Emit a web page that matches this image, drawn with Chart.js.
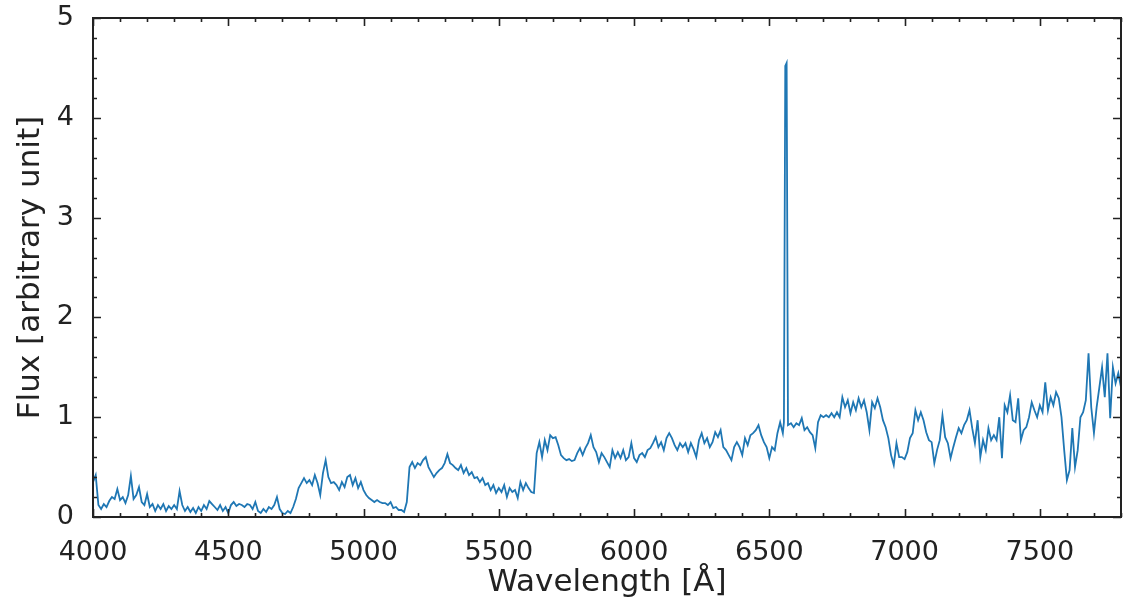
<!DOCTYPE html>
<html>
<head>
<meta charset="utf-8">
<script src="https://cdn.jsdelivr.net/npm/chart.js@4/dist/chart.umd.min.js"></script>
<style>
  html, body { margin: 0; padding: 0; background: #fff; }
  #wrap { width: 1129px; height: 606px; }
</style>
</head>
<body>
<div id="wrap"><canvas id="spectrumChart"></canvas></div>
<script>
// wavelength grid (Å) and flux
const wavelength = [
  4000, 4010, 4020, 4030, 4040, 4050, 4060, 4070, 4080, 4090,
  4100, 4110, 4120, 4130, 4140, 4150, 4160, 4170, 4180, 4190,
  4200, 4210, 4220, 4230, 4240, 4250, 4260, 4270, 4280, 4290,
  4300, 4310, 4320, 4330, 4340, 4350, 4360, 4370, 4380, 4390,
  4400, 4410, 4420, 4430, 4440, 4450, 4460, 4470, 4480, 4490,
  4500, 4510, 4520, 4530, 4540, 4550, 4560, 4570, 4580, 4590,
  4600, 4610, 4620, 4630, 4640, 4650, 4660, 4670, 4680, 4690,
  4700, 4710, 4720, 4730, 4740, 4750, 4760, 4770, 4780, 4790,
  4800, 4810, 4820, 4830, 4840, 4850, 4860, 4870, 4880, 4890,
  4900, 4910, 4920, 4930, 4940, 4950, 4960, 4970, 4980, 4990,
  5000, 5010, 5020, 5030, 5040, 5050, 5060, 5070, 5080, 5090,
  5100, 5110, 5120, 5130, 5140, 5150, 5160, 5170, 5180, 5190,
  5200, 5210, 5220, 5230, 5240, 5250, 5260, 5270, 5280, 5290,
  5300, 5310, 5320, 5330, 5340, 5350, 5360, 5370, 5380, 5390,
  5400, 5410, 5420, 5430, 5440, 5450, 5460, 5470, 5480, 5490,
  5500, 5510, 5520, 5530, 5540, 5550, 5560, 5570, 5580, 5590,
  5600, 5610, 5620, 5630, 5640, 5650, 5660, 5670, 5680, 5690,
  5700, 5710, 5720, 5730, 5740, 5750, 5760, 5770, 5780, 5790,
  5800, 5810, 5820, 5830, 5840, 5850, 5860, 5870, 5880, 5890,
  5900, 5910, 5920, 5930, 5940, 5950, 5960, 5970, 5980, 5990,
  6000, 6010, 6020, 6030, 6040, 6050, 6060, 6070, 6080, 6090,
  6100, 6110, 6120, 6130, 6140, 6150, 6160, 6170, 6180, 6190,
  6200, 6210, 6220, 6230, 6240, 6250, 6260, 6270, 6280, 6290,
  6300, 6310, 6320, 6330, 6340, 6350, 6360, 6370, 6380, 6390,
  6400, 6410, 6420, 6430, 6440, 6450, 6460, 6470, 6480, 6490,
  6500, 6510, 6520, 6530, 6540, 6550, 6554, 6559, 6564, 6569,
  6580, 6590, 6600, 6610, 6620, 6630, 6640, 6650, 6660, 6670,
  6680, 6690, 6700, 6710, 6720, 6730, 6740, 6750, 6760, 6770,
  6780, 6790, 6800, 6810, 6820, 6830, 6840, 6850, 6860, 6870,
  6880, 6890, 6900, 6910, 6920, 6930, 6940, 6950, 6960, 6970,
  6980, 6990, 7000, 7010, 7020, 7030, 7040, 7050, 7060, 7070,
  7080, 7090, 7100, 7110, 7120, 7130, 7140, 7150, 7160, 7170,
  7180, 7190, 7200, 7210, 7220, 7230, 7240, 7250, 7260, 7270,
  7280, 7290, 7300, 7310, 7320, 7330, 7340, 7350, 7360, 7370,
  7380, 7390, 7400, 7410, 7420, 7430, 7440, 7450, 7460, 7470,
  7480, 7490, 7500, 7510, 7520, 7530, 7540, 7550, 7560, 7570,
  7580, 7590, 7600, 7610, 7620, 7630, 7640, 7650, 7660, 7670,
  7680, 7690, 7700, 7710, 7720, 7730, 7740, 7750, 7760, 7770,
  7780, 7790, 7800
];

const flux = [
  0.35, 0.42, 0.12, 0.08, 0.13, 0.10, 0.16, 0.20, 0.18, 0.28,
  0.17, 0.20, 0.14, 0.22, 0.41, 0.18, 0.22, 0.30, 0.15, 0.12,
  0.23, 0.10, 0.13, 0.06, 0.12, 0.08, 0.13, 0.06, 0.11, 0.08,
  0.12, 0.08, 0.26, 0.12, 0.06, 0.10, 0.05, 0.09, 0.04, 0.10,
  0.06, 0.12, 0.08, 0.16, 0.13, 0.10, 0.07, 0.12, 0.06, 0.10,
  0.04, 0.12, 0.15, 0.11, 0.13, 0.12, 0.10, 0.13, 0.12, 0.08,
  0.15, 0.06, 0.04, 0.08, 0.05, 0.10, 0.08, 0.12, 0.20, 0.08,
  0.04, 0.03, 0.06, 0.04, 0.10, 0.18, 0.29, 0.34, 0.39, 0.34,
  0.37, 0.32, 0.42, 0.34, 0.22, 0.44, 0.57, 0.40, 0.34, 0.35,
  0.32, 0.27, 0.35, 0.30, 0.40, 0.42, 0.32, 0.39, 0.29, 0.35,
  0.27, 0.22, 0.19, 0.17, 0.15, 0.17, 0.15, 0.14, 0.14, 0.12,
  0.15, 0.09, 0.10, 0.07, 0.07, 0.05, 0.15, 0.50, 0.55, 0.49,
  0.54, 0.52, 0.57, 0.60, 0.50, 0.45, 0.40, 0.44, 0.47, 0.49,
  0.54, 0.63, 0.54, 0.52, 0.49, 0.47, 0.52, 0.44, 0.49, 0.42,
  0.45, 0.39, 0.40, 0.35, 0.39, 0.32, 0.34, 0.27, 0.32, 0.24,
  0.29, 0.25, 0.32, 0.20, 0.29, 0.25, 0.27, 0.19, 0.35, 0.27,
  0.34, 0.29, 0.25, 0.24, 0.64, 0.75, 0.60, 0.77, 0.67, 0.82,
  0.79, 0.80, 0.72, 0.62, 0.59, 0.57, 0.58, 0.56, 0.57, 0.64,
  0.69, 0.62, 0.69, 0.74, 0.82, 0.70, 0.65, 0.55, 0.64, 0.60,
  0.55, 0.50, 0.67, 0.59, 0.65, 0.59, 0.67, 0.57, 0.60, 0.74,
  0.59, 0.55, 0.62, 0.64, 0.60, 0.67, 0.69, 0.74, 0.80, 0.70,
  0.75, 0.67, 0.79, 0.84, 0.79, 0.72, 0.67, 0.74, 0.70, 0.74,
  0.65, 0.74, 0.68, 0.60, 0.77, 0.84, 0.74, 0.79, 0.70, 0.75,
  0.85, 0.80, 0.87, 0.70, 0.67, 0.62, 0.57, 0.70, 0.75, 0.70,
  0.62, 0.79, 0.72, 0.82, 0.84, 0.87, 0.92, 0.82, 0.75, 0.70,
  0.59, 0.70, 0.67, 0.84, 0.95, 0.84, 0.95, 4.52, 4.55, 0.92,
  0.94, 0.90, 0.94, 0.92, 0.99, 0.87, 0.90, 0.85, 0.82, 0.69,
  0.95, 1.02, 1.00, 1.02, 1.00, 1.04, 1.00, 1.05, 1.00, 1.20,
  1.10, 1.17, 1.04, 1.15, 1.07, 1.19, 1.10, 1.17, 1.05, 0.87,
  1.15, 1.09, 1.19, 1.10, 0.97, 0.90, 0.79, 0.62, 0.52, 0.74,
  0.60, 0.60, 0.58, 0.65, 0.79, 0.84, 1.07, 0.97, 1.05, 0.97,
  0.85, 0.77, 0.75, 0.54, 0.67, 0.77, 1.02, 0.80, 0.74, 0.59,
  0.70, 0.80, 0.89, 0.84, 0.92, 0.97, 1.07, 0.89, 0.74, 0.97,
  0.60, 0.77, 0.67, 0.89, 0.77, 0.82, 0.77, 1.00, 0.59, 1.12,
  1.05, 1.22, 0.97, 0.95, 1.19, 0.77, 0.87, 0.90, 1.00, 1.15,
  1.07, 1.00, 1.12, 1.05, 1.35, 1.07, 1.20, 1.12, 1.25, 1.19,
  1.00, 0.67, 0.37, 0.47, 0.89, 0.50, 0.67, 1.00, 1.05, 1.17,
  1.64, 1.10, 0.84, 1.10, 1.30, 1.50, 1.20, 1.64, 0.99, 1.50,
  1.34, 1.44, 1.30
];

const xTicks = [4000, 4500, 5000, 5500, 6000, 6500, 7000, 7500];
const yTicks = [0, 1, 2, 3, 4, 5];

const points = wavelength.map((w, i) => ({ x: w, y: flux[i] }));

// matplotlib style frame with inward major/minor ticks
const inwardTicks = {
    id: 'inwardTicks',
    afterDraw(chart) {
        const { ctx, chartArea: a } = chart;
        const x = chart.scales.x;
        const y = chart.scales.y;
        ctx.save();
        ctx.strokeStyle = '#222';
        ctx.lineWidth = 1.6;
        ctx.beginPath();
        for (let v = 4000; v <= 7800; v += 100) {
            const px = Math.round(x.getPixelForValue(v)) + 0.5;
            const len = v % 500 === 0 ? 8 : 4;
            ctx.moveTo(px, a.bottom); ctx.lineTo(px, a.bottom - len);
            ctx.moveTo(px, a.top); ctx.lineTo(px, a.top + len);
        }
        for (let k = 0; k <= 25; k++) {
            const v = k * 0.2;
            const py = Math.round(y.getPixelForValue(v)) + 0.5;
            const len = k % 5 === 0 ? 8 : 4;
            ctx.moveTo(a.left, py); ctx.lineTo(a.left + len, py);
            ctx.moveTo(a.right, py); ctx.lineTo(a.right - len, py);
        }
        ctx.stroke();
        ctx.lineWidth = 2;
        ctx.strokeRect(a.left, a.top, a.right - a.left, a.bottom - a.top);
        ctx.restore();
    }
};

const ctx = document.getElementById('spectrumChart');

new Chart(ctx, {
    type: 'line',
    data: {
        datasets: [{
            label: 'Flux',
            data: points,
            borderColor: '#1f77b4',
            borderWidth: 1.8,
            pointRadius: 0,
            tension: 0,
            fill: false,
        }]
    },
    options: {
        responsive: true,
        maintainAspectRatio: false,
        animation: false,
        layout: {
            padding: { left: 0, top: 18, right: 8, bottom: 0 }
        },
        plugins: {
            legend: { display: false },
            tooltip: { enabled: false }
        },
        scales: {
            x: {
                type: 'linear',
                min: 4000,
                max: 7800,
                afterFit: (scale) => {
                    scale.height = 89;
                    scale.paddingLeft = 0;
                    scale.paddingRight = 0;
                },
                afterBuildTicks: (scale) => {
                    scale.ticks = xTicks.map(v => ({ value: v }));
                },
                grid: { display: false },
                border: { display: false },
                ticks: {
                    color: '#222',
                    padding: 12,
                    maxRotation: 0,
                    autoSkip: false,
                    font: { family: 'DejaVu Sans', size: 27 },
                    callback: (v) => String(v)
                },
                title: {
                    display: true,
                    text: 'Wavelength [Å]',
                    color: '#222',
                    font: { family: 'DejaVu Sans', size: 31 },
                    padding: { top: 0, bottom: 4 }
                }
            },
            y: {
                min: 0,
                max: 5,
                afterFit: (scale) => {
                    scale.width = 93;
                    scale.paddingTop = 0;
                    scale.paddingBottom = 0;
                },
                afterBuildTicks: (scale) => {
                    scale.ticks = yTicks.map(v => ({ value: v }));
                },
                grid: { display: false },
                border: { display: false },
                ticks: {
                    color: '#222',
                    padding: 11,
                    font: { family: 'DejaVu Sans', size: 27 },
                    callback: (v) => String(v)
                },
                title: {
                    display: true,
                    text: 'Flux [arbitrary unit]',
                    color: '#222',
                    font: { family: 'DejaVu Sans', size: 31 },
                    padding: { top: 12, bottom: 0 }
                }
            }
        }
    },
    plugins: [inwardTicks]
});
</script>
</body>
</html>
